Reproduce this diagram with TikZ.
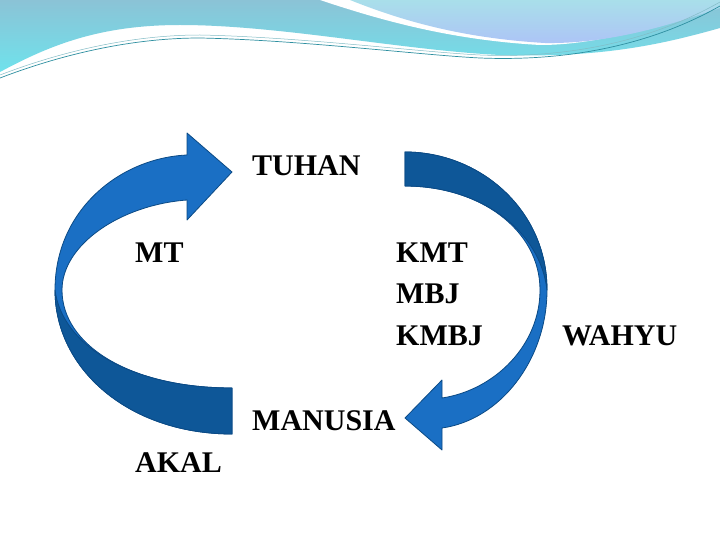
\documentclass[tikz,border=0pt]{standalone}
\usepackage{fontspec}
\setmainfont{Liberation Serif}
\definecolor{arrowA}{HTML}{1A6FC4}
\definecolor{arrowB}{HTML}{0E5798}
\definecolor{edgeC}{HTML}{0B4A85}
\definecolor{waveA}{HTML}{8BC3D6}
\definecolor{waveB}{HTML}{6FE2EC}
\definecolor{waveC}{HTML}{A9DFEA}
\definecolor{lineC}{HTML}{2E8FA0}
\begin{document}
\begin{tikzpicture}[x=1pt,y=-1pt,
  lbl/.style={anchor=base west,inner sep=0pt,font=\fontsize{30}{32}\selectfont\bfseries},
  ribbon/.style={draw=edgeC,line width=0.8pt,line join=round}]
\useasboundingbox (0,0) rectangle (720,540);
\fill[white] (0,0) rectangle (720,540);
% top wave
\shade[top color=waveA,bottom color=waveB] (0,0) -- (0,72) .. controls (50,45) and (100,25) .. (180,25)
  .. controls (280,25) and (400,50) .. (500,55) .. controls (600,58) and (660,45) .. (720,28) -- (720,0) -- cycle;
\fill[white] (320,0) .. controls (380,20) and (450,40) .. (540,45) .. controls (600,45) and (660,25) .. (720,5) -- (720,0) -- cycle;
\shade[top color=waveC,bottom color=waveC!70!blue!60!white] (350,0) .. controls (400,20) and (460,38) .. (545,43) .. controls (610,44) and (670,25) .. (720,8) -- (720,0) -- cycle;
\draw[lineC,line width=0.7pt] (0,78) .. controls (60,55) and (130,38) .. (200,38) .. controls (300,40) and (420,55) .. (480,58) .. controls (580,62) and (660,40) .. (720,6);
\draw[lineC!60,line width=0.5pt] (0,75) .. controls (60,52) and (130,35) .. (200,35) .. controls (300,37) and (420,52) .. (480,55) .. controls (580,59) and (660,36) .. (720,2);
% left arrow
\fill[ribbon,fill=arrowA] (232,434) .. controls (130,434) and (55,370) .. (55,290)
  .. controls (55,210) and (120,158) .. (187,155) -- (187,133) -- (232,172) -- (187,220) -- (187,200)
  .. controls (120,205) and (62,245) .. (62,290) .. controls (62,345) and (130,388) .. (232,388) -- cycle;
\fill[ribbon,fill=arrowB] (232,434) .. controls (130,434) and (55,370) .. (55,290)
  .. controls (62,345) and (130,388) .. (232,388) -- cycle;
% right arrow
\fill[ribbon,fill=arrowA] (405,152) .. controls (480,152) and (547,210) .. (547,290)
  .. controls (547,360) and (500,420) .. (442,428) -- (442,450) -- (405,418) -- (442,380) -- (442,398)
  .. controls (495,390) and (540,345) .. (540,290) .. controls (540,230) and (480,186) .. (405,186) -- cycle;
\fill[ribbon,fill=arrowB] (405,152) .. controls (480,152) and (547,210) .. (547,290)
  .. controls (540,230) and (480,186) .. (405,186) -- cycle;
% labels
\node[lbl] (tuhan) at (252,176) {TUHAN};
\node[lbl] (mt) at (135,262) {MT};
\node[lbl] (kmt) at (396,262) {KMT};
\node[lbl] (mbj) at (396,303) {MBJ};
\node[lbl] (kmbj) at (396,345) {KMBJ};
\node[lbl] (wahyu) at (562,345) {WAHYU};
\node[lbl] (manusia) at (252,430) {MANUSIA};
\node[lbl] (akal) at (135,472) {AKAL};
\end{tikzpicture}
\end{document}
